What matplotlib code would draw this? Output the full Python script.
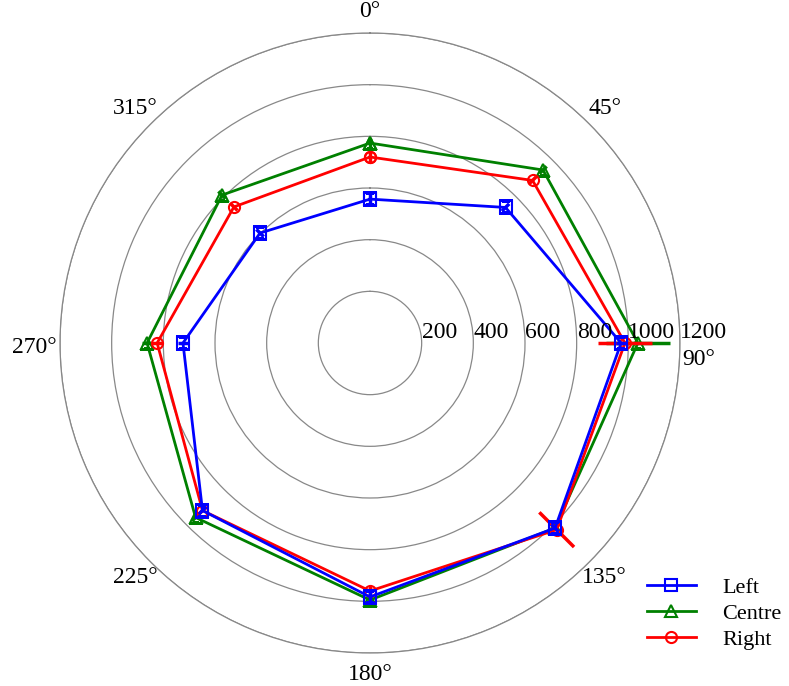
import numpy as np
import matplotlib.pyplot as plt

plt.rcParams["font.family"] = ["Liberation Serif", "DejaVu Serif"]

# 角度 (度) 与各测点数值
angles_deg = [0, 45, 90, 135, 180, 225, 270, 315]
left = [557, 742, 972, 1013, 983, 917, 724, 602]
centre = [774, 947, 1037, 1013, 995, 955, 863, 810]
right = [720, 890, 987, 1022, 960, 917, 824, 745]
# 径向误差
left_err = [20, 20, 20, 20, 20, 20, 20, 20]
centre_err = [20, 20, 125, 20, 20, 20, 20, 20]
right_err = [20, 20, 105, 95, 20, 20, 20, 20]
rticks = [200, 400, 600, 800, 1000, 1200]
theta_labels = ["0°", "45°", "90°", "135°", "180°", "225°", "270°", "315°"]

theta = np.deg2rad(angles_deg)

fig = plt.figure(figsize=(7.89, 6.86), dpi=100)
ax = fig.add_axes([60 / 789, 33 / 686, 620 / 789, 620 / 686], projection="polar")
ax.set_theta_zero_location("N")
ax.set_theta_direction(-1)
ax.set_ylim(0, 1200)

series = [
    ("Centre", centre, centre_err, "green", "^"),
    ("Right", right, right_err, "red", "o"),
    ("Left", left, left_err, "blue", "s"),
]
handles = {}
for name, vals, err, col, mk in series:
    t = np.append(theta, theta[0])
    v = np.append(vals, vals[0])
    ax.errorbar(theta, vals, yerr=err, fmt="none", ecolor=col, elinewidth=2.5, capsize=0)
    (h,) = ax.plot(t, v, color=col, lw=2, marker=mk, markersize=8,
                   markerfacecolor="none", markeredgewidth=1.5, label=name)
    handles[name] = h

# 网格
ax.set_yticks(rticks)
ax.set_yticklabels([])
ax.set_xticks(theta)
ax.set_xticklabels([])
ax.xaxis.grid(False)
ax.yaxis.grid(True, color="#888888", lw=0.9)
ax.spines["polar"].set_color("#888888")
ax.spines["polar"].set_linewidth(0.9)

# 径向刻度标签
for r in rticks:
    ax.text(np.pi / 2, r, str(r), ha="left", va="bottom", fontsize=17)

# 角度标签
for a, lab in zip(angles_deg, theta_labels):
    if a == 90:
        ax.annotate(lab, (np.deg2rad(a), 1210), xytext=(0, -4), textcoords="offset points",
                    ha="left", va="top", fontsize=17, annotation_clip=False)
    elif a == 270:
        ax.annotate(lab, (np.deg2rad(a), 1215), xytext=(0, -3), textcoords="offset points",
                    ha="right", va="center", fontsize=17, annotation_clip=False)
    else:
        ax.text(np.deg2rad(a), 1285, lab, ha="center", va="center", fontsize=17)

fig.legend([handles["Left"], handles["Centre"], handles["Right"]],
           ["Left", "Centre", "Right"], loc="upper left",
           bbox_to_anchor=(627 / 789, 1 - 557 / 686), frameon=False,
           fontsize=16, handlelength=2.2, handletextpad=1.2, labelspacing=0.25)

fig.savefig("out.png", dpi=100)
